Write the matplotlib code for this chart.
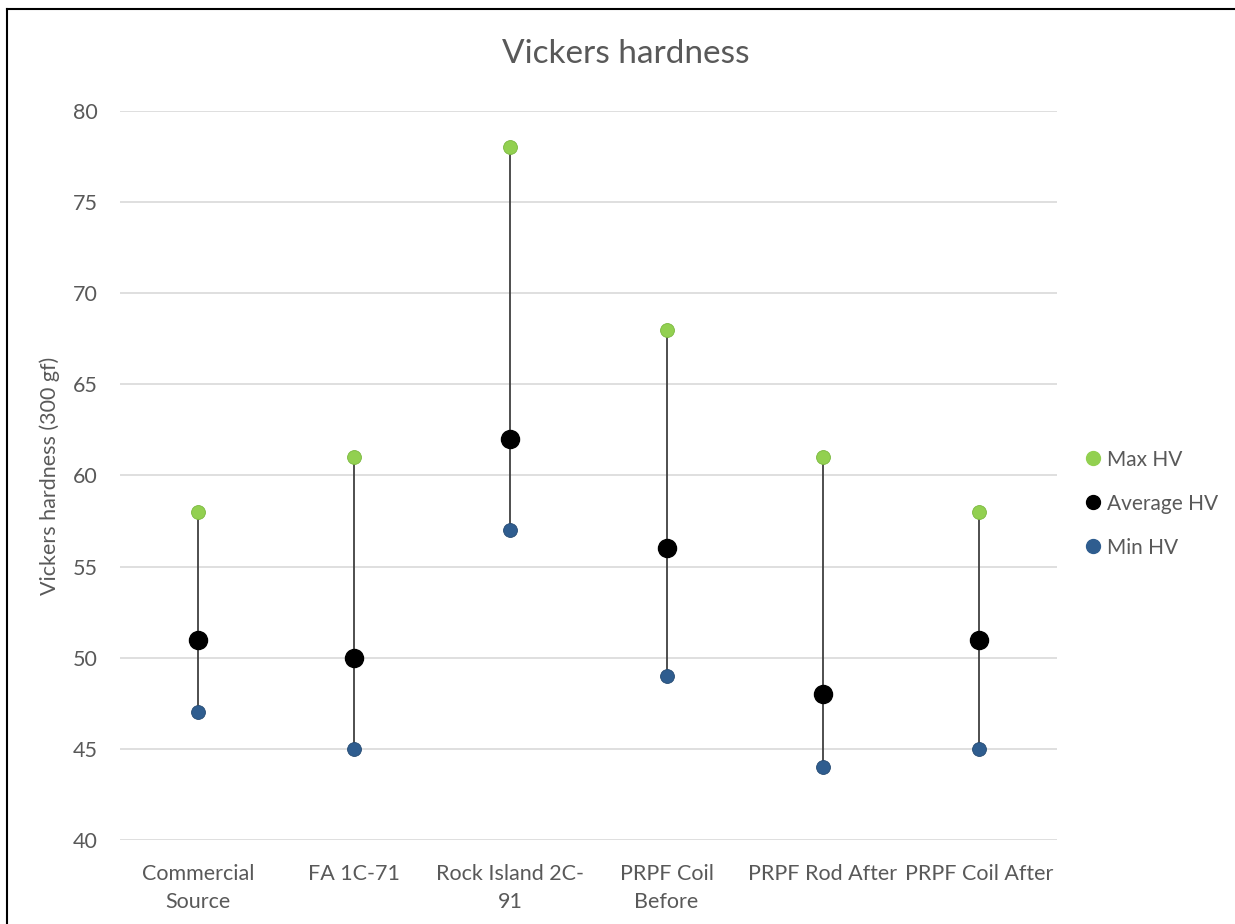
import numpy as np
import matplotlib.pyplot as plt
from matplotlib.lines import Line2D

plt.rcParams['font.family'] = ['Lato', 'DejaVu Sans']

# data
samples = ['Commercial\nSource', 'FA 1C-71', 'Rock Island 2C-\n91', 'PRPF Coil\nBefore',
           'PRPF Rod After', 'PRPF Coil After']
max_hv = [58, 61, 78, 68, 61, 58]
avg_hv = [51, 50, 62, 56, 48, 51]
min_hv = [47, 45, 57, 49, 44, 45]

txt = '#595959'
green = '#92D050'
blue = '#2F5D8F'

fig = plt.figure(figsize=(12.35, 9.24), dpi=100)
ax = fig.add_axes([0.0972, 0.0909, 0.7587, 0.789])

x = np.arange(len(samples))
ax.vlines(x, min_hv, max_hv, color='#404040', lw=1.3, zorder=2)
ax.plot(x, max_hv, 'o', ms=10, color=green, mec='#7ab83e', mew=0.6, ls='none', zorder=3, label='Max HV')
ax.plot(x, avg_hv, 'o', ms=13, color='black', ls='none', zorder=3, label='Average HV')
ax.plot(x, min_hv, 'o', ms=10, color=blue, mec='#254a72', mew=0.6, ls='none', zorder=3, label='Min HV')

ax.set_xlim(-0.5, 5.5)
ax.set_ylim(40, 80)
ax.set_yticks(range(40, 81, 5))
ax.set_xticks(x)
ax.set_xticklabels(samples, linespacing=1.55)
ax.yaxis.grid(True, color='#d9d9d9', lw=1.2)
ax.set_axisbelow(True)
for s in ax.spines.values():
    s.set_visible(False)
ax.tick_params(length=0, colors=txt, labelsize=15.5)
ax.tick_params(axis='x', pad=17)
ax.tick_params(axis='y', pad=16)
ax.set_ylabel('Vickers hardness (300 gf)', color=txt, fontsize=15.5, labelpad=9)
fig.text(0.507, 0.942, 'Vickers hardness', ha='center', va='center', color=txt, fontsize=24)

handles = [Line2D([], [], marker='o', ls='none', ms=10, color=green),
           Line2D([], [], marker='o', ls='none', ms=10, color='black'),
           Line2D([], [], marker='o', ls='none', ms=10, color=blue)]
fig.legend(handles, ['Max HV', 'Average HV', 'Min HV'], loc='center left',
           bbox_to_anchor=(0.86, 0.455), frameon=False, fontsize=15,
           labelcolor=txt, handletextpad=-0.35, labelspacing=1.15, borderpad=0)

# chart border (left and top only, as in the reference crop)
fig.add_artist(Line2D([0.006, 0.006], [0, 0.99], color='black', lw=1.5, transform=fig.transFigure))
fig.add_artist(Line2D([0.006, 1], [0.99, 0.99], color='black', lw=1.5, transform=fig.transFigure))

fig.savefig('out.png', dpi=100)
